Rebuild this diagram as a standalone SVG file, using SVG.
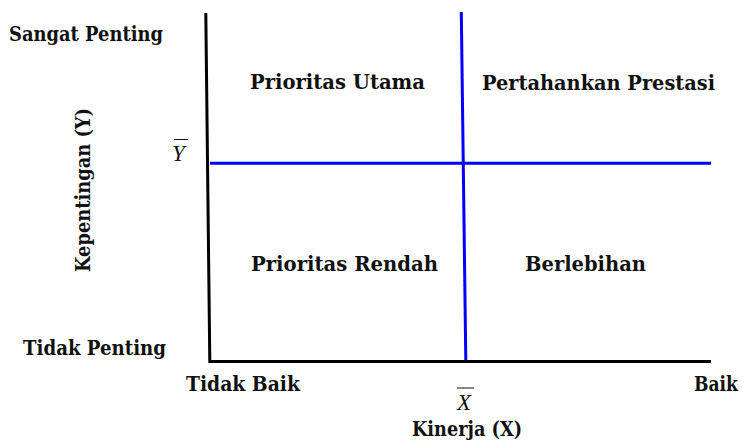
<svg xmlns="http://www.w3.org/2000/svg" width="743" height="443" viewBox="0 0 743 443">
  <style>
    .lbl { font-family: "DejaVu Serif", "Liberation Serif", serif; font-weight: bold; font-size: 20.5px; fill: #111; }
    .sym { font-family: "Liberation Serif", "DejaVu Serif", serif; font-style: italic; font-size: 23px; fill: #111; }
    .axis { stroke: #000; stroke-width: 3; fill: none; }
    .mean { stroke: #0000ff; stroke-width: 3; fill: none; }
    .bar { stroke: #111; stroke-width: 1; }
  </style>
  <rect width="743" height="443" fill="#fff"/>

  <!-- axes -->
  <g id="axes">
    <path class="axis" d="M205.8,13 L209.8,361.5 L711,361.5"/>
  </g>

  <!-- mean lines splitting the plane into quadrants -->
  <g id="connectors">
    <line class="mean" x1="210" y1="163.3" x2="711" y2="163.3"/>
    <line class="mean" x1="461.3" y1="12" x2="465.8" y2="360"/>
  </g>

  <!-- quadrant labels -->
  <g id="q-prioritas-utama">
    <text class="lbl" x="250" y="89" textLength="175" lengthAdjust="spacingAndGlyphs">Prioritas Utama</text>
  </g>
  <g id="q-pertahankan-prestasi">
    <text class="lbl" x="482" y="90" textLength="233" lengthAdjust="spacingAndGlyphs">Pertahankan Prestasi</text>
  </g>
  <g id="q-prioritas-rendah">
    <text class="lbl" x="251" y="271" textLength="187" lengthAdjust="spacingAndGlyphs">Prioritas Rendah</text>
  </g>
  <g id="q-berlebihan">
    <text class="lbl" x="525" y="271" textLength="121" lengthAdjust="spacingAndGlyphs">Berlebihan</text>
  </g>

  <!-- vertical axis labels -->
  <g id="y-labels">
    <text class="lbl" x="9" y="41" textLength="154" lengthAdjust="spacingAndGlyphs">Sangat Penting</text>
    <text class="lbl" x="23" y="355" textLength="143" lengthAdjust="spacingAndGlyphs">Tidak Penting</text>
    <text class="lbl" transform="translate(90,272) rotate(-90)" x="0" y="0" textLength="164" lengthAdjust="spacingAndGlyphs">Kepentingan (Y)</text>
    <text class="sym" x="172" y="161">Y</text>
    <line class="bar" x1="174" y1="139.5" x2="188" y2="139.5"/>
  </g>

  <!-- horizontal axis labels -->
  <g id="x-labels">
    <text class="lbl" x="186" y="391" textLength="114" lengthAdjust="spacingAndGlyphs">Tidak Baik</text>
    <text class="lbl" x="738" y="391" text-anchor="end" textLength="44" lengthAdjust="spacingAndGlyphs">Baik</text>
    <text class="sym" x="457" y="410">X</text>
    <line class="bar" x1="457" y1="388" x2="474" y2="388"/>
    <text class="lbl" x="412" y="436" textLength="110" lengthAdjust="spacingAndGlyphs">Kinerja (X)</text>
  </g>
</svg>
